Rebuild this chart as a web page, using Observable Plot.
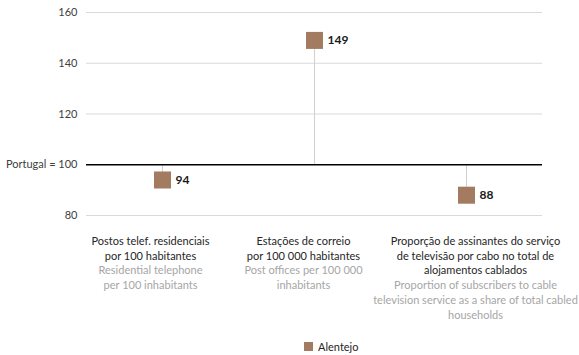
<!DOCTYPE html>
<html>
<head>
<meta charset="utf-8">
<script src="https://cdn.jsdelivr.net/npm/d3@7"></script>
<script src="https://cdn.jsdelivr.net/npm/@observablehq/plot@0.6"></script>
<style>
  body { margin: 0; background: #fff; font-family: Lato, "Open Sans", sans-serif; }
  #legend { height: 22px; display: flex; justify-content: flex-start; align-items: center; font-size: 11px; color: #262626; padding-left: 304px; }
  #legend .sw { width: 9px; height: 9px; background: #a27b61; margin-right: 5px; }
</style>
</head>
<body>
<div id="chart"></div>
<div id="legend"><span class="sw"></span><span id="legend-name"></span></div>
<script>
const categories = ["tel", "post", "cabo"];
const labelsPT = [
  "Postos telef. residenciais\npor 100 habitantes",
  "Estações de correio\npor 100 000 habitantes",
  "Proporção de assinantes do serviço\nde televisão por cabo no total de\nalojamentos cablados"
];
const labelsEN = [
  "\n\nResidential telephone\nper 100 inhabitants",
  "\n\nPost offices per 100 000\ninhabitants",
  "\n\n\nProportion of subscribers to cable\ntelevision service as a share of total cabled\nhouseholds"
];
const values = [94, 149, 88];
const yTicks = [80, 100, 120, 140, 160];
const baseline = 100;
const seriesName = "Alentejo";
// horizontal nudges of the category label blocks (style only)
const labelShift = [-12, -11, 9];

document.getElementById("legend-name").textContent = seriesName;

const data = categories.map((c, i) => ({cat: c, value: values[i], pt: labelsPT[i], en: labelsEN[i]}));

const labelMarks = data.flatMap((d, i) => [
  Plot.text([d], {x: "cat", text: "pt", frameAnchor: "bottom", lineAnchor: "top", dy: 19, dx: labelShift[i],
    lineHeight: 1.34, fill: "#262626", fontSize: 11}),
  Plot.text([d], {x: "cat", text: "en", frameAnchor: "bottom", lineAnchor: "top", dy: 19, dx: labelShift[i],
    lineHeight: 1.34, fill: "#a6a6a6", fontSize: 11})
]);

const chart = Plot.plot({
  width: 579,
  height: 335,
  marginLeft: 86,
  marginRight: 37,
  marginTop: 12,
  marginBottom: 120,
  style: {fontFamily: "Lato, 'Open Sans', sans-serif", fontSize: "11px", background: "#fff"},
  x: {domain: categories, axis: null, paddingInner: 0, paddingOuter: 0},
  y: {domain: [80, 160], ticks: yTicks, label: null},
  marks: [
    Plot.gridY(yTicks.filter(t => t !== baseline), {stroke: "#d9d9d9", strokeOpacity: 1, strokeWidth: 1}),
    Plot.axisY(yTicks, {tickSize: 0, tickPadding: 9, fill: "#404040", fontSize: 11, label: null,
      tickFormat: d => d === baseline ? "Portugal = 100" : String(d)}),
    Plot.ruleX(data, {x: "cat", y1: baseline, y2: "value", stroke: "#d0d0d0", strokeWidth: 1}),
    Plot.ruleY([baseline], {stroke: "#000", strokeWidth: 1.3}),
    Plot.dot(data, {x: "cat", y: "value", symbol: "square", r: 9.6, fill: "#a27b61", stroke: "none"}),
    Plot.text(data, {x: "cat", y: "value", text: d => String(d.value), textAnchor: "start", dx: 13,
      fontWeight: "bold", fontSize: 12, fill: "#1a1a1a"}),
    ...labelMarks
  ]
});
document.getElementById("chart").appendChild(chart);
</script>
</body>
</html>
